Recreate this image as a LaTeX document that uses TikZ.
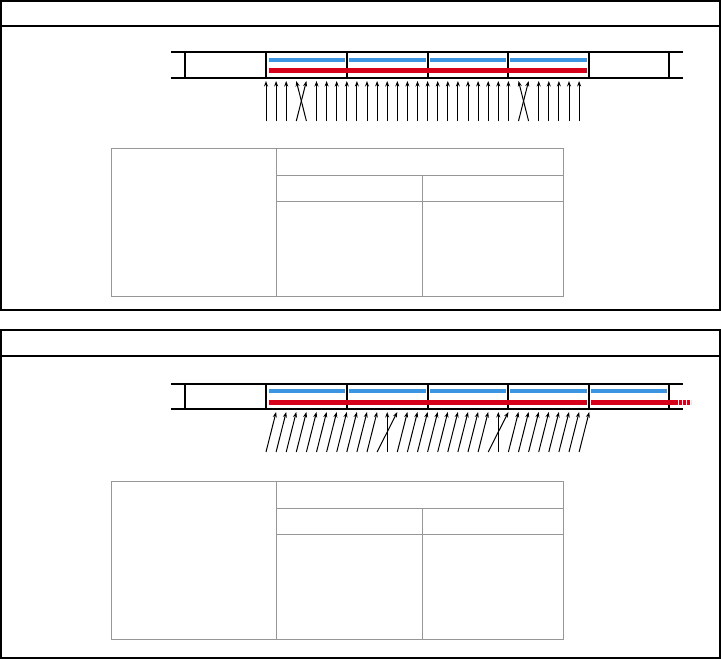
\documentclass[tikz,border=0pt]{standalone}
\usepackage{tikz}
\usetikzlibrary{arrows.meta}
\definecolor{readblue}{HTML}{3B95E1}
\definecolor{writered}{HTML}{D7001B}
\definecolor{gridgray}{HTML}{979797}
\begin{document}
\begin{tikzpicture}[
    x=1pt, y=-1pt,
    panel/.style={draw=black, line width=1.2pt},
    tape/.style={draw=black, line width=1.2pt},
    readbar/.style={draw=readblue, line width=4pt},
    writebar/.style={draw=writered, line width=5pt},
    gridline/.style={draw=gridgray, line width=1pt},
    arr/.style={-{Stealth[length=5.5pt, width=4pt]}, line width=1pt}
]
\useasboundingbox (0,0) rectangle (721,659);

% PANELS
\draw[panel] (1,1) rectangle (720,310);
\draw[panel] (1,26) -- (720,26);
\draw[panel] (1,330) rectangle (720,658);
\draw[panel] (1,356) -- (720,356);

% TOP TAPE
\draw[tape] (171,52) -- (683,52);
\draw[tape] (171,78) -- (683,78);
\foreach \x in {185,266,347,428,508,589,669}
    \draw[tape] (\x,52) -- (\x,78);
\foreach \a/\b in {269/345,349/426,430/506,510/587}
    \draw[readbar] (\a,60) -- (\b,60);
\draw[writebar] (269,70) -- (587,70);

% TOP ARROWS
\foreach \k in {0,...,31} {
    \coordinate (ta\k) at ({266+10.1*\k},121);
    \coordinate (ha\k) at ({266+10.1*\k},81);
}
\foreach \k in {0,1,2,5,6,...,24,27,28,29,30,31}
    \draw[arr] (ta\k) -- (ha\k);
\foreach \a/\b in {3/4,4/3,25/26,26/25}
    \draw[arr] (ta\a) -- (ha\b);

% TOP TABLE
\draw[gridline] (111,148) rectangle (563,296);
\draw[gridline] (276,148) -- (276,296);
\draw[gridline] (276,175) -- (563,175);
\draw[gridline] (276,201) -- (563,201);
\draw[gridline] (422,175) -- (422,296);

% BOTTOM TAPE
\draw[tape] (171,384) -- (683,384);
\draw[tape] (171,409) -- (683,409);
\foreach \x in {185,266,347,428,508,589,669}
    \draw[tape] (\x,384) -- (\x,409);
\foreach \a/\b in {269/345,349/426,430/506,510/587,591/667}
    \draw[readbar] (\a,391) -- (\b,391);
\draw[writebar] (269,402) -- (587,402);
\draw[writebar] (591,402) -- (678,402);
\draw[writebar, dash pattern=on 2.7pt off 1.3pt] (679,402) -- (691,402);

% BOTTOM ARROWS
\foreach \k in {0,...,32} {
    \coordinate (tb\k) at ({266+10.1*\k},452);
    \coordinate (hb\k) at ({266+10.1*\k},412);
}
\foreach \k [evaluate=\k as \j using int(\k+1)] in {0,...,10,13,14,...,21,24,25,...,31}
    \draw[arr] (tb\k) -- (hb\j);
\foreach \a/\b in {11/13,12/12,22/24,23/23}
    \draw[arr] (tb\a) -- (hb\b);

% BOTTOM TABLE
\draw[gridline] (111,481) rectangle (563,639);
\draw[gridline] (276,481) -- (276,639);
\draw[gridline] (276,508) -- (563,508);
\draw[gridline] (276,534) -- (563,534);
\draw[gridline] (422,508) -- (422,639);

\end{tikzpicture}
\end{document}
